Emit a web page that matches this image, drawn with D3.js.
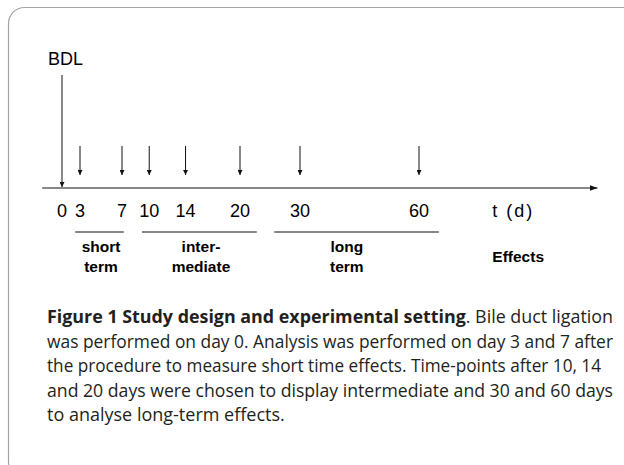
<!DOCTYPE html>
<html>
<head>
<meta charset="utf-8">
<script src="https://cdn.jsdelivr.net/npm/d3@7"></script>
<style>
  body { margin: 0; background: #fff; }
  svg { display: block; }
</style>
</head>
<body>
<div id="chart"></div>
<script>
// time points (days), schematic axis
const days = [0, 3, 7, 10, 14, 20, 30, 60];
const sampleDays = [3, 7, 10, 14, 20, 30, 60];
const phaseNames = [["short", "term"], ["inter-", "mediate"], ["long", "term"]];
const phaseSpans = [[2.2, 7.2], [9.2, 22.8], [25.7, 65]];
const phaseLabelAt = [5, 15.7, 41.8];
const axisLabel = "t (d)";
const axisLabelAt = 83.5;
const effectsLabel = "Effects";
const effectsAt = 85;
const eventLabel = "BDL";

const captionTitle = "Figure 1 Study design and experimental setting";
const captionLines = [
  ". Bile duct ligation",
  "was performed on day 0. Analysis was performed on day 3 and 7 after",
  "the procedure to measure short time effects. Time-points after 10, 14",
  "and 20 days were chosen to display intermediate and 30 and 60 days",
  "to analyse long-term effects."
];
// right end of each full caption line; the last line keeps its natural width
const captionEnds = [613, 613, 601, 613];

const W = 624, H = 465;
const svg = d3.select("#chart").append("svg")
  .attr("width", W)
  .attr("height", H);

// frame with rounded corner, open to the right
svg.append("rect")
  .attr("x", 8.5).attr("y", 7.5)
  .attr("width", 700).attr("height", 470)
  .attr("rx", 16)
  .attr("fill", "none")
  .attr("stroke", "#a3a3a3")
  .attr("stroke-width", 1.2);

// schematic scale - not proportional, compressed after day 20
const x = d3.scaleLinear()
  .domain([0, 3, 7, 20, 30, 60])
  .range([62, 80, 122, 240, 300, 419]);

const axisY = 188;

const defs = svg.append("defs");
defs.append("marker")
  .attr("id", "head")
  .attr("viewBox", "0 0 10 10")
  .attr("refX", 10).attr("refY", 5)
  .attr("markerUnits", "userSpaceOnUse")
  .attr("markerWidth", 5).attr("markerHeight", 5)
  .attr("orient", "auto")
  .append("path").attr("d", "M0,0L10,5L0,10z").attr("fill", "#111");
defs.append("marker")
  .attr("id", "headAxis")
  .attr("viewBox", "0 0 10 10")
  .attr("refX", 10).attr("refY", 5)
  .attr("markerUnits", "userSpaceOnUse")
  .attr("markerWidth", 8).attr("markerHeight", 6)
  .attr("orient", "auto")
  .attr("preserveAspectRatio", "none")
  .append("path").attr("d", "M0,0L10,5L0,10z").attr("fill", "#111");

// time axis
svg.append("line")
  .attr("x1", x(-3.3)).attr("x2", x(105))
  .attr("y1", axisY).attr("y2", axisY)
  .attr("stroke", "#111").attr("stroke-width", 1.1)
  .attr("marker-end", "url(#headAxis)");

// BDL event
svg.append("text")
  .attr("x", x(0) - 14).attr("y", 65)
  .attr("font-family", "Liberation Sans, Arial, sans-serif")
  .attr("font-size", 18)
  .text(eventLabel);
svg.append("line")
  .attr("x1", x(0)).attr("x2", x(0))
  .attr("y1", 75).attr("y2", axisY - 1)
  .attr("stroke", "#111").attr("stroke-width", 1)
  .attr("marker-end", "url(#head)");

// sampling arrows
svg.selectAll(".sample")
  .data(sampleDays)
  .enter().append("line")
  .attr("class", "sample")
  .attr("x1", d => x(d)).attr("x2", d => x(d))
  .attr("y1", 146).attr("y2", 175)
  .attr("stroke", "#111").attr("stroke-width", 1)
  .attr("marker-end", "url(#head)");

// day labels
svg.selectAll(".day")
  .data(days)
  .enter().append("text")
  .attr("class", "day")
  .attr("x", d => x(d))
  .attr("y", 217)
  .attr("text-anchor", "middle")
  .attr("font-family", "Liberation Sans, Arial, sans-serif")
  .attr("font-size", 18)
  .text(d => d);

svg.append("text")
  .attr("x", x(axisLabelAt)).attr("y", 217)
  .attr("text-anchor", "middle")
  .attr("font-family", "Liberation Sans, Arial, sans-serif")
  .attr("font-size", 18)
  .attr("textLength", 40)
  .text(axisLabel);

// phase brackets
svg.selectAll(".span")
  .data(phaseSpans)
  .enter().append("line")
  .attr("class", "span")
  .attr("x1", d => x(d[0])).attr("x2", d => x(d[1]))
  .attr("y1", 232).attr("y2", 232)
  .attr("stroke", "#111").attr("stroke-width", 1.2);

const phaseText = svg.selectAll(".phase")
  .data(phaseNames)
  .enter().append("text")
  .attr("class", "phase")
  .attr("text-anchor", "middle")
  .attr("font-family", "Liberation Sans, Arial, sans-serif")
  .attr("font-weight", "bold")
  .attr("font-size", 15.5);
phaseText.selectAll("tspan")
  .data((d, i) => d.map(t => ({ t, i })))
  .enter().append("tspan")
  .attr("x", d => x(phaseLabelAt[d.i]))
  .attr("y", (d, j) => 252 + j * 20)
  .text(d => d.t);

svg.append("text")
  .attr("x", x(effectsAt)).attr("y", 262)
  .attr("text-anchor", "middle")
  .attr("font-family", "Liberation Sans, Arial, sans-serif")
  .attr("font-weight", "bold")
  .attr("font-size", 15.5)
  .text(effectsLabel);

// caption
const capX = 47;
const capTop = 323, capStep = 24.6;
const cap = svg.append("g")
  .attr("font-family", "Open Sans, Noto Sans, sans-serif")
  .attr("font-size", 18)
  .attr("fill", "#231f20");

captionLines.forEach((t, i) => {
  const el = cap.append("text")
    .attr("x", capX)
    .attr("y", capTop + i * capStep);
  if (i < captionEnds.length) {
    el.attr("textLength", captionEnds[i] - capX)
      .attr("lengthAdjust", "spacingAndGlyphs");
  }
  if (i === 0) {
    el.append("tspan").attr("font-weight", "bold").text(captionTitle);
  }
  el.append("tspan").text(t);
});
</script>
</body>
</html>
